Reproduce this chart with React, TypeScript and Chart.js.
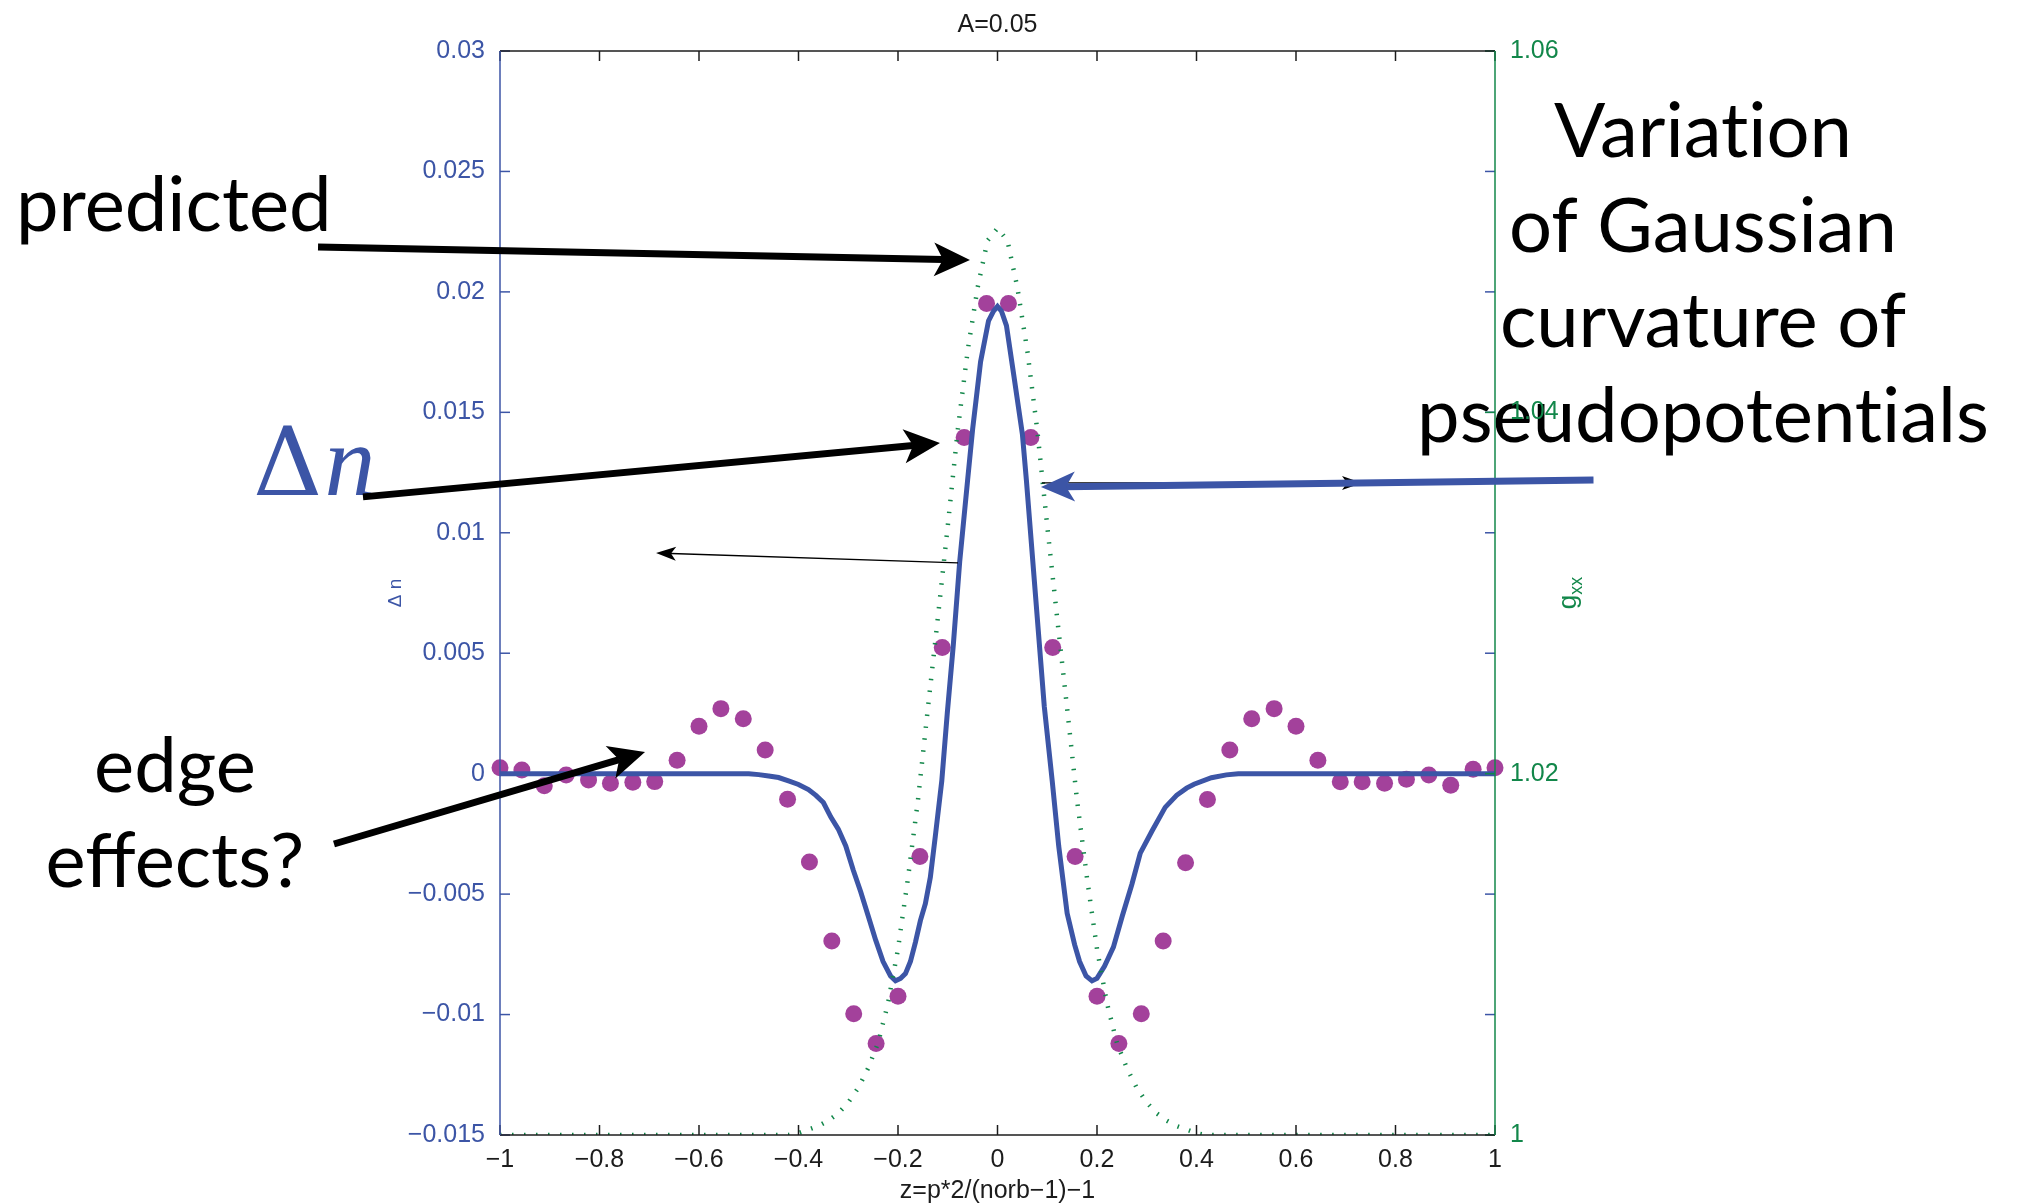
import React, { useEffect, useRef } from "react";
import { Chart, registerables } from "chart.js";

Chart.register(...registerables);

const BLUE = "#3c55a6";
const GREEN = "#12874a";
const MAGENTA = "#a3419b";
const INK = "#1c1c1c";
const TICK_FONT = "'Liberation Sans', Arial, Helvetica, sans-serif";
const NOTE_FONT = "Lato, 'Open Sans', 'Noto Sans', sans-serif";

// measured Δn (dots), p = 0..45
const dotZ = [
  -1, -0.956, -0.911, -0.867, -0.822, -0.778, -0.733, -0.689, -0.644, -0.6,
  -0.556, -0.511, -0.467, -0.422, -0.378, -0.333, -0.289, -0.244, -0.2, -0.156,
  -0.111, -0.067, -0.022, 0.022, 0.067, 0.111, 0.156, 0.2, 0.244, 0.289,
  0.333, 0.378, 0.422, 0.467, 0.511, 0.556, 0.6, 0.644, 0.689, 0.733,
  0.778, 0.822, 0.867, 0.911, 0.956, 1,
];
const dotDn = [
  0.00025, 0.00015, -0.0005, -0.00006, -0.00026, -0.0004, -0.00036, -0.00033, 0.00056, 0.00197,
  0.0027, 0.00228, 0.00098, -0.00106, -0.00367, -0.00695, -0.00997, -0.0112, -0.00924, -0.00344,
  0.00524, 0.01396, 0.01952, 0.01952, 0.01396, 0.00524, -0.00344, -0.00924, -0.0112, -0.00997,
  -0.00695, -0.0037, -0.00107, 0.00098, 0.00228, 0.0027, 0.00197, 0.00056, -0.00034, -0.00034,
  -0.0004, -0.00023, -0.00006, -0.00048, 0.00018, 0.00025,
];

// predicted Δn (solid line)
const lineZ = [
  -1, -0.5, -0.48, -0.46, -0.44, -0.42, -0.4, -0.38, -0.365, -0.35,
  -0.335, -0.32, -0.305, -0.29, -0.275, -0.26, -0.245, -0.23, -0.215, -0.205,
  -0.195, -0.185, -0.175, -0.165, -0.155, -0.145, -0.135, -0.125, -0.112, -0.101,
  -0.089, -0.076, -0.06, -0.05, -0.034, -0.018, -0.008, 0, 0.008, 0.018,
  0.033, 0.05, 0.058, 0.076, 0.094, 0.11, 0.123, 0.14, 0.155, 0.165,
  0.178, 0.19, 0.2, 0.215, 0.233, 0.251, 0.27, 0.287, 0.31, 0.337,
  0.36, 0.38, 0.395, 0.43, 0.46, 0.484, 1,
];
const lineDn = [
  0, 0, -0.00004, -0.0001, -0.00016, -0.0003, -0.00045, -0.00066, -0.0009, -0.0012,
  -0.0018, -0.0023, -0.003, -0.004, -0.0049, -0.0059, -0.0069, -0.0078, -0.0084, -0.0086,
  -0.0085, -0.0083, -0.0078, -0.007, -0.0061, -0.0054, -0.0043, -0.0026, -0.0003, 0.0025,
  0.0053, 0.0088, 0.0122, 0.0143, 0.0171, 0.0188, 0.0192, 0.0194, 0.0192, 0.0186,
  0.0165, 0.0141, 0.0122, 0.0075, 0.0028, -0.0003, -0.003, -0.0058, -0.0071, -0.0078,
  -0.0084, -0.0086, -0.0085, -0.008, -0.0072, -0.0059, -0.0046, -0.0033, -0.0024, -0.0014,
  -0.0009, -0.0006, -0.00044, -0.00017, -0.00005, 0, 0,
];

// g_xx (dotted, right axis)
const gZ = [
  -1, -0.42, -0.4, -0.38, -0.36, -0.34, -0.32, -0.3, -0.28, -0.26,
  -0.24, -0.22, -0.2, -0.18, -0.16, -0.14, -0.12, -0.1, -0.08, -0.06,
  -0.04, -0.02, 0, 0.02, 0.04, 0.06, 0.08, 0.1, 0.12, 0.14,
  0.16, 0.18, 0.2, 0.22, 0.24, 0.26, 0.28, 0.3, 0.32, 0.34,
  0.36, 0.38, 0.4, 0.42, 1,
];
const gXX = [
  1, 1, 1.0001, 1.0003, 1.0005, 1.0008, 1.0012, 1.0018, 1.0026, 1.0037,
  1.0051, 1.0073, 1.0103, 1.0142, 1.0185, 1.0236, 1.0286, 1.0337, 1.039, 1.0434,
  1.0469, 1.0495, 1.0502, 1.0495, 1.0469, 1.0434, 1.039, 1.0337, 1.0286, 1.0236,
  1.0185, 1.0142, 1.0103, 1.0073, 1.0051, 1.0037, 1.0026, 1.0018, 1.0012, 1.0008,
  1.0005, 1.0003, 1.0001, 1, 1,
];

const xTicks = [-1, -0.8, -0.6, -0.4, -0.2, 0, 0.2, 0.4, 0.6, 0.8, 1];
const xTickLabels = ["−1", "−0.8", "−0.6", "−0.4", "−0.2", "0", "0.2", "0.4", "0.6", "0.8", "1"];
const yTicks = [-0.015, -0.01, -0.005, 0, 0.005, 0.01, 0.015, 0.02, 0.025, 0.03];
const yTickLabels = ["−0.015", "−0.01", "−0.005", "0", "0.005", "0.01", "0.015", "0.02", "0.025", "0.03"];
const y2Ticks = [1, 1.02, 1.04, 1.06];
const y2TickLabels = ["1", "1.02", "1.04", "1.06"];

const titleText = "A=0.05";
const xTitle = "z=p*2/(norb−1)−1";

// annotation texts, anchored in data units (z, Δn); \u200C keeps "ti" from joining
const noteText = ["predicted", "edge", "effects?", "Variat\u200Cion", "of Gaussian", "curvature of", "pseudopotent\u200Cials"];
const noteZ = [-1.9729, -1.6533, -1.6533, 1.4181, 1.4181, 1.4181, 1.4181];
const noteDn = [0.02253, -0.00076, -0.0047, 0.0256, 0.02166, 0.01771, 0.01377];
const noteAlign = ["left", "center", "center", "center", "center", "center", "center"];

// arrows, anchored in data units: [z, Δn]
const arrowFrom = [
  [-1.3658, 0.02186],
  [-1.2754, 0.01149],
  [-0.0794, 0.00875],
  [0.0894, 0.01207],
  [1.198, 0.01219],
  [-1.3337, -0.00292],
];
const arrowTo = [
  [-0.0553, 0.02132],
  [-0.1156, 0.01373],
  [-0.6864, 0.00916],
  [0.7327, 0.01207],
  [0.0874, 0.0119],
  [-0.7085, 0.0009],
];
const arrowKind = ["thick", "thick", "thin", "thin", "blue", "thick"];

function drawArrow(
  ctx: CanvasRenderingContext2D,
  x1: number, y1: number, x2: number, y2: number,
  w: number, len: number, half: number, notch: number, color: string
) {
  const ang = Math.atan2(y2 - y1, x2 - x1);
  const c = Math.cos(ang), s = Math.sin(ang);
  const bx = x2 - c * len, by = y2 - s * len;
  const nx = x2 - c * (len - notch), ny = y2 - s * (len - notch);
  ctx.strokeStyle = color;
  ctx.lineWidth = w;
  ctx.lineCap = "butt";
  ctx.beginPath();
  ctx.moveTo(x1, y1);
  ctx.lineTo(nx, ny);
  ctx.stroke();
  ctx.fillStyle = color;
  ctx.beginPath();
  ctx.moveTo(x2, y2);
  ctx.lineTo(bx - s * half, by + c * half);
  ctx.lineTo(nx, ny);
  ctx.lineTo(bx + s * half, by - c * half);
  ctx.closePath();
  ctx.fill();
}

const notesBelow = {
  id: "notesBelow",
  beforeDraw(chart: any) {
    const { ctx } = chart;
    const x = chart.scales.x, y = chart.scales.y;
    ctx.save();
    ctx.fillStyle = "#000";
    ctx.font = `76px ${NOTE_FONT}`;
    ctx.textBaseline = "alphabetic";
    noteText.forEach((t, i) => {
      ctx.textAlign = noteAlign[i];
      ctx.fillText(t, x.getPixelForValue(noteZ[i]), y.getPixelForValue(noteDn[i]));
    });
    // big Δn label
    ctx.fillStyle = BLUE;
    ctx.textAlign = "left";
    ctx.font = "96px 'DejaVu Serif', serif";
    ctx.fillText("Δ", x.getPixelForValue(-1.4965), y.getPixelForValue(0.01157));
    ctx.font = "italic 102px 'Liberation Serif', 'Times New Roman', serif";
    ctx.fillText("n", x.getPixelForValue(-1.353), y.getPixelForValue(0.01157));
    ctx.restore();
  },
};

const frame = {
  id: "frame",
  afterDraw(chart: any) {
    const { ctx, chartArea: a } = chart;
    const x = chart.scales.x, y = chart.scales.y, y2 = chart.scales.y2;
    const line = (x1: number, y1: number, x2: number, y2_: number) => {
      ctx.beginPath();
      ctx.moveTo(x1, y1);
      ctx.lineTo(x2, y2_);
      ctx.stroke();
    };
    ctx.save();
    ctx.lineWidth = 1.5;
    const tl = 10;
    ctx.strokeStyle = INK;
    xTicks.forEach((v) => {
      const px = x.getPixelForValue(v);
      line(px, a.bottom, px, a.bottom - tl);
      line(px, a.top, px, a.top + tl);
    });
    ctx.strokeStyle = BLUE;
    yTicks.forEach((v) => {
      const py = y.getPixelForValue(v);
      line(a.left, py, a.left + tl, py);
      line(a.right, py, a.right - tl, py);
    });
    ctx.strokeStyle = GREEN;
    y2Ticks.forEach((v) => {
      const py = y2.getPixelForValue(v);
      line(a.right, py, a.right - tl, py);
    });
    // axes
    ctx.strokeStyle = INK;
    line(a.left, a.top, a.right, a.top);
    line(a.left, a.bottom, a.right, a.bottom);
    ctx.strokeStyle = BLUE;
    line(a.left, a.top, a.left, a.bottom);
    ctx.strokeStyle = GREEN;
    line(a.right, a.top, a.right, a.bottom);

    // title and axis titles
    const cx = (a.left + a.right) / 2;
    const cy = (a.top + a.bottom) / 2;
    ctx.fillStyle = INK;
    ctx.font = `25px ${TICK_FONT}`;
    ctx.textAlign = "center";
    ctx.textBaseline = "alphabetic";
    ctx.fillText(titleText, cx, a.top - 19);
    ctx.fillText(xTitle, cx, a.bottom + 63);

    ctx.save();
    ctx.translate(a.left - 104, cy);
    ctx.rotate(-Math.PI / 2);
    ctx.fillStyle = BLUE;
    ctx.font = `19px ${TICK_FONT}`;
    ctx.textAlign = "center";
    ctx.textBaseline = "middle";
    ctx.fillText("Δ n", 0, 0);
    ctx.restore();

    ctx.save();
    ctx.translate(a.right + 77, cy);
    ctx.rotate(-Math.PI / 2);
    ctx.fillStyle = GREEN;
    ctx.textBaseline = "alphabetic";
    ctx.textAlign = "left";
    ctx.font = `26px ${TICK_FONT}`;
    const gw = ctx.measureText("g").width;
    ctx.font = `18px ${TICK_FONT}`;
    const sw = ctx.measureText("xx").width;
    const start = -(gw + sw) / 2;
    ctx.font = `26px ${TICK_FONT}`;
    ctx.fillText("g", start, 4);
    ctx.font = `18px ${TICK_FONT}`;
    ctx.fillText("xx", start + gw, 10);
    ctx.restore();

    // arrows
    arrowFrom.forEach((f, i) => {
      const t = arrowTo[i];
      const x1 = x.getPixelForValue(f[0]), y1 = y.getPixelForValue(f[1]);
      const x2 = x.getPixelForValue(t[0]), y2p = y.getPixelForValue(t[1]);
      const k = arrowKind[i];
      if (k === "thick") drawArrow(ctx, x1, y1, x2, y2p, 7, 36, 17, 9, "#000");
      else if (k === "thin") drawArrow(ctx, x1, y1, x2, y2p, 1.4, 20, 7, 5, "#000");
      else drawArrow(ctx, x1, y1, x2, y2p, 7, 34, 15, 9, BLUE);
    });
    ctx.restore();
  },
};

export default function App() {
  const ref = useRef<HTMLCanvasElement | null>(null);
  useEffect(() => {
    document.body.style.margin = "0";
    const canvas = ref.current;
    if (!canvas) return;
    const chart = new Chart(canvas, {
      type: "scatter",
      data: {
        datasets: [
          {
            label: "g_xx",
            data: gZ.map((z, i) => ({ x: z, y: gXX[i] })),
            yAxisID: "y2",
            showLine: true,
            borderColor: GREEN,
            borderWidth: 4.5,
            borderDash: [1.5, 10.5],
            pointRadius: 0,
            tension: 0,
            order: 0,
          },
          {
            label: "predicted",
            data: lineZ.map((z, i) => ({ x: z, y: lineDn[i] })),
            yAxisID: "y",
            showLine: true,
            borderColor: BLUE,
            borderWidth: 5,
            pointRadius: 0,
            tension: 0,
            order: 1,
          },
          {
            label: "measured",
            data: dotZ.map((z, i) => ({ x: z, y: dotDn[i] })),
            yAxisID: "y",
            showLine: false,
            pointRadius: 8.5,
            pointBorderWidth: 0,
            pointBackgroundColor: MAGENTA,
            backgroundColor: MAGENTA,
            borderColor: MAGENTA,
            clip: false as any,
            order: 2,
          },
        ],
      },
      options: {
        animation: false,
        responsive: true,
        maintainAspectRatio: false,
        events: [],
        layout: { padding: { top: 51, left: 0, right: 0, bottom: 0 } },
        plugins: {
          legend: { display: false },
          tooltip: { enabled: false },
          title: { display: false },
        },
        scales: {
          x: {
            type: "linear",
            min: -1,
            max: 1,
            grid: { display: false },
            border: { display: false },
            afterFit: (s: any) => { s.height = 69; },
            afterBuildTicks: (s: any) => { s.ticks = xTicks.map((v) => ({ value: v })); },
            ticks: {
              color: INK,
              font: { family: TICK_FONT, size: 25 },
              padding: 2,
              maxRotation: 0,
              autoSkip: false,
              callback: (_v: any, i: number) => xTickLabels[i],
            },
          },
          y: {
            type: "linear",
            position: "left",
            min: -0.015,
            max: 0.03,
            grid: { display: false },
            border: { display: false },
            afterFit: (s: any) => { s.width = 500; },
            afterBuildTicks: (s: any) => { s.ticks = yTicks.map((v) => ({ value: v })); },
            ticks: {
              color: BLUE,
              font: { family: TICK_FONT, size: 25 },
              padding: 7,
              autoSkip: false,
              callback: (_v: any, i: number) => yTickLabels[i],
            },
          },
          y2: {
            type: "linear",
            position: "right",
            min: 1,
            max: 1.06,
            grid: { display: false },
            border: { display: false },
            afterFit: (s: any) => { s.width = 522; },
            afterBuildTicks: (s: any) => { s.ticks = y2Ticks.map((v) => ({ value: v })); },
            ticks: {
              color: GREEN,
              font: { family: TICK_FONT, size: 25 },
              padding: 7,
              autoSkip: false,
              callback: (_v: any, i: number) => y2TickLabels[i],
            },
          },
        },
      } as any,
      plugins: [notesBelow, frame],
    });
    return () => chart.destroy();
  }, []);
  return (
    <div style={{ width: 2017, height: 1204, position: "relative", background: "#fff" }}>
      <canvas ref={ref} />
    </div>
  );
}
